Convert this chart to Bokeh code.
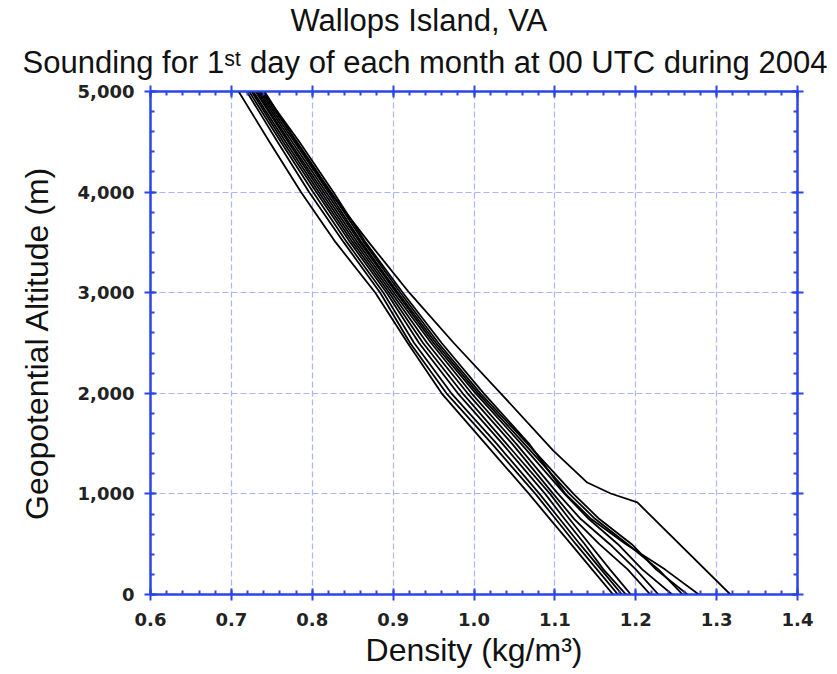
from bokeh.plotting import figure
from bokeh.models import (Range1d, LinearAxis, NumeralTickFormatter, Title,
                          CustomJSTickFormatter, FixedTicker)
from bokeh.embed import file_html
from bokeh.resources import INLINE

# Altitude levels (m) shared by the first eleven soundings
alt_levels = [0, 250, 500, 750, 1000, 1500, 2000, 2500, 3000, 3500, 4000, 4500, 5000]

# Density (kg/m^3) of each sounding at alt_levels
snd_01 = [1.172, 1.146, 1.120, 1.094, 1.068, 1.014, 0.960, 0.918, 0.878, 0.829, 0.786, 0.747, 0.709]
snd_02 = [1.178, 1.152, 1.126, 1.101, 1.076, 1.022, 0.966, 0.921, 0.884, 0.839, 0.796, 0.757, 0.719]
snd_03 = [1.183, 1.157, 1.131, 1.106, 1.081, 1.028, 0.972, 0.926, 0.888, 0.843, 0.801, 0.761, 0.722]
snd_04 = [1.188, 1.160, 1.137, 1.112, 1.088, 1.035, 0.980, 0.932, 0.892, 0.847, 0.805, 0.764, 0.725]
snd_05 = [1.194, 1.168, 1.143, 1.118, 1.094, 1.040, 0.986, 0.937, 0.895, 0.850, 0.808, 0.767, 0.727]
snd_06 = [1.218, 1.190, 1.155, 1.124, 1.098, 1.047, 0.992, 0.942, 0.898, 0.853, 0.811, 0.770, 0.730]
snd_07 = [1.228, 1.200, 1.168, 1.132, 1.104, 1.052, 0.997, 0.947, 0.901, 0.856, 0.814, 0.772, 0.731]
snd_08 = [1.245, 1.208, 1.178, 1.142, 1.112, 1.058, 1.002, 0.950, 0.904, 0.859, 0.817, 0.775, 0.733]
snd_09 = [1.258, 1.228, 1.190, 1.150, 1.118, 1.062, 1.005, 0.953, 0.906, 0.861, 0.820, 0.778, 0.735]
snd_10 = [1.264, 1.225, 1.195, 1.155, 1.123, 1.066, 1.008, 0.956, 0.909, 0.864, 0.823, 0.781, 0.737]
snd_11 = [1.278, 1.236, 1.188, 1.145, 1.113, 1.068, 1.012, 0.960, 0.912, 0.866, 0.826, 0.784, 0.739]

# The warm outlier sounding has its own altitude levels (kink near 1 km)
snd_12_alt = [0, 915, 1004, 1113, 1431, 2000, 2500, 3000, 3500, 4000, 4500, 5000]
snd_12 = [1.317, 1.202, 1.169, 1.140, 1.098, 1.033, 0.975, 0.920, 0.870, 0.822, 0.780, 0.741]

# Axis ticks
x_ticks = [0.6, 0.7, 0.8, 0.9, 1.0, 1.1, 1.2, 1.3, 1.4]
y_ticks = [0, 1000, 2000, 3000, 4000, 5000]
x_ticks_fmt = "0.0"
y_ticks_fmt = "0,0"

BLUE = "#2b45e8"
GRID = "#aab4f6"
FONT = "Liberation Sans"
TICKFONT = "DejaVu Sans"

p = figure(width=829, height=674, output_backend="svg", toolbar_location=None,
           x_range=Range1d(0.6, 1.4), y_range=Range1d(0, 5000),
           x_axis_label="Density (kg/m³)", y_axis_label="Geopotential Altitude (m)",
           min_border_left=150, min_border_right=32, min_border_top=91, min_border_bottom=80)

profiles = [snd_01, snd_02, snd_03, snd_04, snd_05, snd_06, snd_07, snd_08, snd_09, snd_10, snd_11]
for prof in profiles:
    p.line(prof, alt_levels, line_color="black", line_width=1.8)
p.line(snd_12, snd_12_alt, line_color="black", line_width=1.8)

x_minor = [round(x_ticks[0] + 0.02 * i, 2) for i in range(41)]
y_minor = [200 * i for i in range(26)]
xt = FixedTicker(ticks=x_ticks, minor_ticks=x_minor)
yt = FixedTicker(ticks=y_ticks, minor_ticks=y_minor)

def style_axis(ax, show_labels):
    ax.axis_line_color = BLUE
    ax.axis_line_width = 2
    ax.major_tick_line_color = BLUE
    ax.major_tick_line_width = 2
    ax.minor_tick_line_color = BLUE
    ax.minor_tick_line_width = 2
    ax.major_tick_in = 6
    ax.major_tick_out = 6
    ax.minor_tick_in = 4
    ax.minor_tick_out = 0
    ax.major_label_text_font = TICKFONT
    ax.major_label_text_font_size = "18px"
    ax.major_label_text_font_style = "bold"
    ax.major_label_text_color = "#222222"
    ax.axis_label_text_font = FONT
    ax.axis_label_text_font_size = "32px"
    ax.axis_label_text_font_style = "normal"
    ax.axis_label_text_color = "#111111"
    if not show_labels:
        ax.formatter = CustomJSTickFormatter(code="return ''")
        ax.major_label_standoff = 0

p.xaxis.ticker = xt
p.yaxis.ticker = yt
p.xaxis.formatter = NumeralTickFormatter(format=x_ticks_fmt)
p.yaxis.formatter = NumeralTickFormatter(format=y_ticks_fmt)
style_axis(p.xaxis[0], True)
style_axis(p.yaxis[0], True)
p.xaxis.major_label_standoff = 12
p.yaxis.major_label_standoff = 10
p.xaxis.axis_label_standoff = 3
p.yaxis.axis_label_standoff = 20

top = LinearAxis(ticker=xt)
right = LinearAxis(ticker=yt)
style_axis(top, False)
style_axis(right, False)
p.add_layout(top, "above")
p.add_layout(right, "right")

p.xgrid.ticker = xt
p.ygrid.ticker = yt
for g in (p.xgrid[0], p.ygrid[0]):
    g.grid_line_color = GRID
    g.grid_line_dash = "6 3"
    g.grid_line_width = 1.2
    g.minor_grid_line_color = None

p.outline_line_color = BLUE
p.outline_line_width = 2

t2 = Title(text="Sounding for 1ˢᵗ day of each month at 00 UTC during 2004",
           align="left", text_font=FONT, text_font_size="31px", text_line_height=1.0,
           text_font_style="normal", text_color="#111111", offset=-128, standoff=11)
t1 = Title(text="Wallops Island, VA", align="left", text_font=FONT,
           text_font_size="31px", text_font_style="normal", text_color="#111111",
           offset=140, standoff=0)
p.add_layout(t2, "above")
p.add_layout(t1, "above")

p.background_fill_color = "white"
p.border_fill_color = "white"

open("out.html", "w").write(file_html(p, INLINE))
